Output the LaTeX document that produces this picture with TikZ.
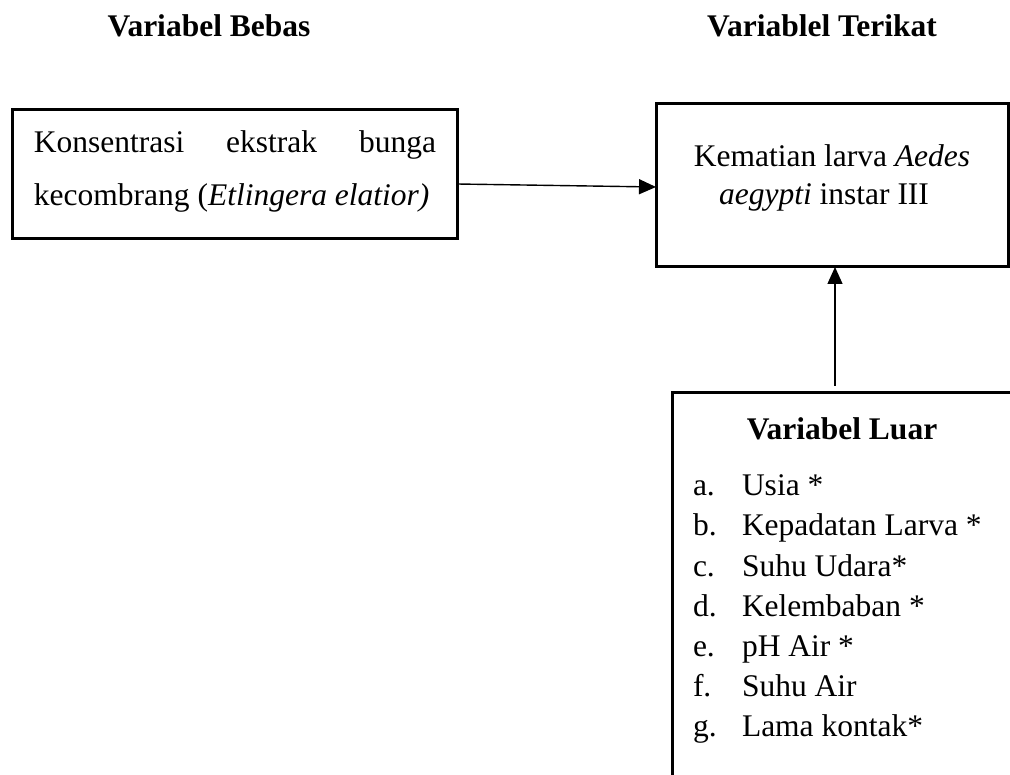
\documentclass[tikz,border=0pt]{standalone}
\usepackage{fontspec}
\setmainfont{Liberation Serif}
\usetikzlibrary{arrows.meta}
\begin{document}
\begin{tikzpicture}[x=1pt,y=-1pt,
  every node/.style={inner sep=0pt,outer sep=0pt,font=\fontsize{31.5}{40}\selectfont},
  boxed/.style={draw,line width=3pt,rectangle,fill=none},
  txt/.style={anchor=base west},
  ctxt/.style={anchor=base},
  hdr/.style={anchor=base,font=\fontsize{31.5}{40}\selectfont\bfseries},
  conn/.style={line width=1.4pt,-{Triangle[length=17pt,width=15pt]}}]
\useasboundingbox (0,0) rectangle (1010,775);
\fill[white] (0,0) rectangle (1010,775);
% headers
\node[hdr] (hbebas) at (209,37) {Variabel Bebas};
\node[hdr] (hterikat) at (822,37) {Variablel Terikat};
% left box
\node[boxed,minimum width=445pt,minimum height=129pt] (bebas) at (234.5,174.5) {};
\node[txt] (b1) at (34,153) {\makebox[402pt][s]{Konsentrasi ekstrak bunga}};
\node[txt] (b2) at (34,206) {kecombrang (\textit{Etlingera elatior)}};
% right box
\node[boxed,minimum width=352pt,minimum height=163pt] (terikat) at (832,185.5) {};
\node[ctxt] (t1) at (832,167) {Kematian larva \textit{Aedes}};
\node[ctxt] (t2) at (824,205) {\textit{aegypti} instar III};
% bottom box (cut by the page edge)
\begin{scope}
\clip (0,0) rectangle (1010,775);
\node[boxed,minimum width=380pt,minimum height=420pt,anchor=north west] (luar) at (672,393) {};
\end{scope}
\node[hdr] (lhdr) at (842,440) {Variabel Luar};
\foreach \l/\t [count=\i from 0] in {a./Usia *,b./Kepadatan Larva *,c./Suhu Udara*,d./Kelembaban *,e./pH Air *,f./Suhu Air,g./Lama kontak*}{
  \node[txt] (lab\i) at (693,496+40*\i) {\l};
  \node[txt] (item\i) at (742,496+40*\i) {\t};
}
% connectors
\coordinate (luartop) at (835,386);
\draw[conn] ([yshift=-9.5pt]bebas.east) -- ([yshift=-1.5pt]terikat.west);
\draw[conn] (luartop) -- (luartop |- terikat.south);
\end{tikzpicture}
\end{document}
